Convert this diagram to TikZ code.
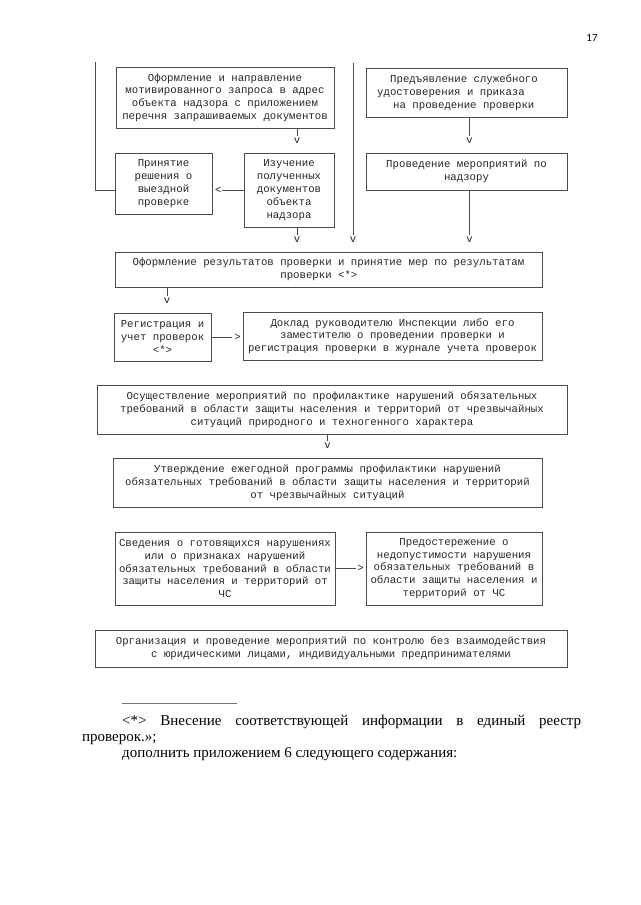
\documentclass[tikz,border=0pt]{standalone}
\usepackage{fontspec}
\usepackage{tikz}
\usetikzlibrary{arrows}
\newfontfamily\boxfont{Liberation Mono}
\newfontfamily\notefont{Liberation Serif}
\newfontfamily\pagefont{Carlito}
\newcommand{\bfnt}{\boxfont\fontsize{10.7}{12.8}\selectfont}
\tikzstyle{blk}=[shape=rectangle,draw=black!70,line width=0.7pt,inner sep=0pt,align=center,text=black!85,font=\bfnt]
\tikzstyle{tran}=[draw=black!70,line width=0.7pt]
\tikzstyle{tipv}=[inner sep=0pt,yshift=12pt,text=black!85,font=\bfnt]
\tikzstyle{tipl}=[inner sep=0pt,xshift=6pt,text=black!85,font=\bfnt]
\tikzstyle{tipr}=[inner sep=0pt,xshift=-5pt,text=black!85,font=\bfnt]
\tikzstyle{note}=[inner sep=0pt,anchor=base west,font=\notefont\fontsize{15}{17}\selectfont]

\begin{document}
\begin{tikzpicture}[x=1pt,y=-1pt]
		\useasboundingbox (0,0) rectangle (640,905);
		\node[font=\pagefont\fontsize{11}{13}\selectfont] (pnum) at (592,38) {17};
%
		\node[blk,minimum width=218pt,minimum height=61pt] (req) at (225,97.5) 
		{Оформление и направление\\мотивированного запроса в адрес\\объекта 
		надзора с приложением\\перечня запрашиваемых документов};
		\node[blk,minimum width=201pt,minimum height=49pt,align=left] (cert) 
		at (466.5,92.5) 
		{\hspace*{13pt}Предъявление служебного\hspace*{18pt}\\удостоверения и 
		приказа\\\hspace*{16pt}на проведение проверки};
		\node[blk,minimum width=97pt,minimum height=61pt] (decide) at (163.5,183.5) 
		{Принятие\\решения о\\выездной\\проверке};
		\node[blk,minimum width=90pt,minimum height=74pt] (study) at (289,190) 
		{Изучение\\полученных\\документов\\объекта\\надзора};
		\node[blk,minimum width=201pt,minimum height=37pt] (conduct) at (466.5,171.5) 
		{Проведение мероприятий по\\надзору};
		\node[blk,minimum width=427pt,minimum height=35pt] (result) at (328.5,269.5) 
		{Оформление результатов проверки и принятие мер по результатам\\проверки 
		<*>\phantom{xxx}};
		\node[blk,minimum width=97pt,minimum height=48pt] (reg) at (162.5,337) 
		{Регистрация и\\учет проверок\\<*>};
		\node[blk,minimum width=299pt,minimum height=48pt] (report) at (392.5,336) 
		{Доклад руководителю Инспекции либо его\\заместителю о проведении 
		проверки и\\регистрация проверки в журнале учета проверок};
		\node[blk,minimum width=470pt,minimum height=49pt] (prev) at (332,409.5) 
		{Осуществление мероприятий по профилактике нарушений обязательных\\требований 
		в области защиты населения и территорий от чрезвычайных\\ситуаций природного 
		и техногенного характера};
		\node[blk,minimum width=429pt,minimum height=49pt] (prog) at (327.5,482.5) 
		{Утверждение ежегодной программы профилактики нарушений\\обязательных 
		требований в области защиты населения и территорий\\от чрезвычайных ситуаций};
		\node[blk,minimum width=220pt,minimum height=73pt] (info) at (225,568.5) 
		{Сведения о готовящихся нарушениях\\или о признаках нарушений\\обязательных 
		требований в области\\защиты населения и территорий от\\ЧС};
		\node[blk,minimum width=176pt,minimum height=73pt] (warn) at (454,568.5) 
		{Предостережение о\\недопустимости нарушения\\обязательных требований в\\области 
		защиты населения и\\территорий от ЧС};
		\node[blk,minimum width=472pt,minimum height=37pt] (ctrl) at (331,648.5) 
		{Организация и проведение мероприятий по контролю без взаимодействия\\с 
		юридическими лицами, индивидуальными предпринимателями};
%
		\coordinate (ltop) at (95,62);
		\coordinate (mtop) at (353,63);
		\draw[tran] (ltop) |- ([yshift=-6.5pt]decide.west);
		\draw[tran,shorten >=17pt] (mtop) -- (mtop |- result.north) node[tipv] {v};
		\draw[tran,shorten >=17pt] ([xshift=8pt]study.north |- req.south) -- 
		([xshift=8pt]study.north) node[tipv] {v};
		\draw[tran,shorten >=17pt] ([xshift=3pt]cert.south) -- 
		([xshift=3pt]conduct.north) node[tipv] {v};
		\draw[tran,shorten >=10pt] (study.west) -- (study.west -| decide.east) 
		node[tipl] {<};
		\draw[tran,shorten >=17pt] ([xshift=8pt]study.south) -- 
		([xshift=8pt]study.south |- result.north) node[tipv] {v};
		\draw[tran,shorten >=17pt] ([xshift=3pt]conduct.south) -- 
		([xshift=3pt]conduct.south |- result.north) node[tipv] {v};
		\draw[tran,shorten >=17pt] ([xshift=4.5pt]reg.north |- result.south) -- 
		([xshift=4.5pt]reg.north) node[tipv] {v};
		\draw[tran,shorten >=11pt] (reg.east) -- (reg.east -| report.west) 
		node[tipr] {>};
		\draw[tran,shorten >=17pt] (prog.north |- prev.south) -- (prog.north) 
		node[tipv] {v};
		\draw[tran,shorten >=10pt] (info.east) -- (warn.west) node[tipr] {>};
%
		\coordinate (ruleA) at (122,703);
		\coordinate (ruleB) at (237,703);
		\draw[black!55,line width=0.5pt] (ruleA) -- (ruleB);
		\node[note] (fn1) at (122,725) {\hbox to 459pt{<*>\hfil Внесение\hfil 
		соответствующей\hfil информации\hfil в\hfil единый\hfil реестр}};
		\node[note] (fn2) at (82,741) {проверок.»;};
		\node[note] (fn3) at (122,757) {дополнить приложением 6 следующего содержания:};
\end{tikzpicture}
\end{document}
